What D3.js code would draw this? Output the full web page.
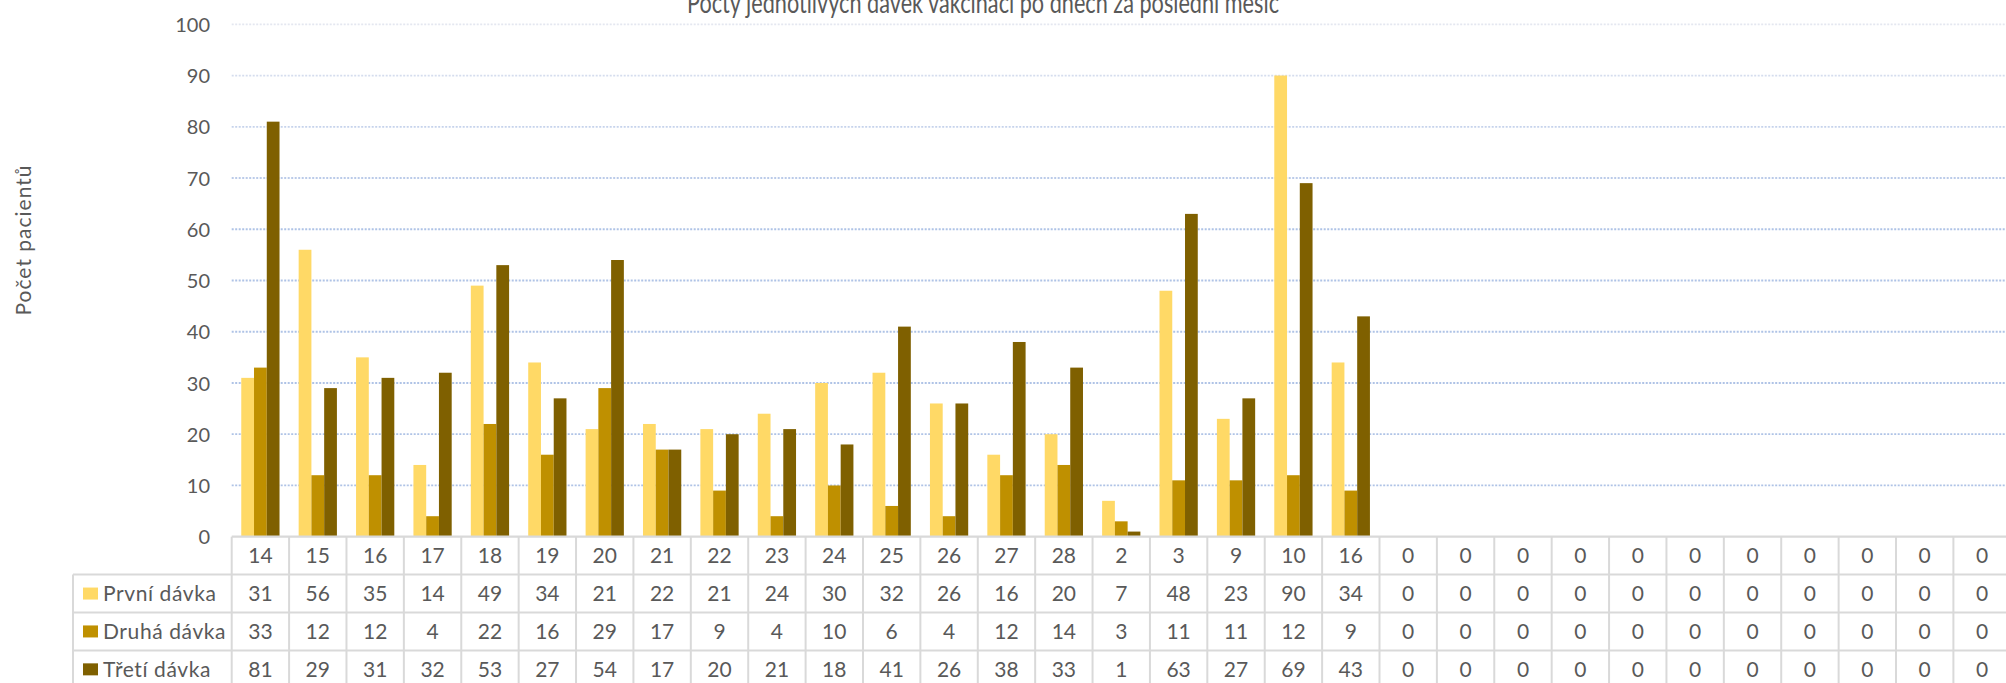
<!DOCTYPE html>
<html>
<head>
<meta charset="utf-8">
<script src="https://cdn.jsdelivr.net/npm/d3@7/dist/d3.min.js"></script>
<style>
  html, body { margin: 0; padding: 0; background: #fff; overflow: hidden; }
  text { font-family: Lato, "Open Sans", "Noto Sans", sans-serif; fill: #595959; }
</style>
</head>
<body>
<svg id="chart" width="2006" height="683"></svg>
<script>
// ---------- data ----------
const title = "Počty jednotlivých dávek vakcinací po dnech za poslední měsíc";
const yAxisTitle = "Počet pacientů";
const categories = ["14","15","16","17","18","19","20","21","22","23","24","25","26","27","28","2","3","9","10","16","0","0","0","0","0","0","0","0","0","0","0"];
const seriesNames = ["První dávka","Druhá dávka","Třetí dávka"];
const prvni = [31,56,35,14,49,34,21,22,21,24,30,32,26,16,20,7,48,23,90,34,0,0,0,0,0,0,0,0,0,0,0];
const druha = [33,12,12,4,22,16,29,17,9,4,10,6,4,12,14,3,11,11,12,9,0,0,0,0,0,0,0,0,0,0,0];
const treti = [81,29,31,32,53,27,54,17,20,21,18,41,26,38,33,1,63,27,69,43,0,0,0,0,0,0,0,0,0,0,0];
const yTicks = [0,10,20,30,40,50,60,70,80,90,100];
const colors = ["#FFD966","#BF9000","#7F6000"];

const series = [prvni, druha, treti];

// ---------- layout ----------
const svg = d3.select("#chart");
const plotLeft = 231.7, step = 57.39;
const plotRight = plotLeft + step * categories.length;
const y0 = 536.7, yTop = 24.3;
const tableTop = 536.7, rowH = 37.9, legendLeft = 73;

const x = d3.scaleBand()
  .domain(d3.range(categories.length))
  .range([plotLeft, plotRight])
  .paddingInner(1/3).paddingOuter(1/6);
const xs = d3.scaleBand().domain(d3.range(series.length)).range([0, x.bandwidth()]);
const y = d3.scaleLinear().domain([0, 100]).range([y0, yTop]);

// gridlines (fade toward the top)
const gridColor = d3.scaleLinear().domain([100, 80, 60]).range(["#e4e7f0", "#c6d3ec", "#afc3e6"]).clamp(true);
svg.append("g").selectAll("line")
  .data(yTicks.filter(d => d > 0))
  .join("line")
  .attr("x1", plotLeft).attr("x2", plotRight)
  .attr("y1", d => y(d)).attr("y2", d => y(d))
  .attr("stroke", d => gridColor(d))
  .attr("stroke-width", 1.8)
  .attr("stroke-dasharray", "2,1.5");

// y axis labels
const yAxis = d3.axisLeft(y).tickValues(yTicks).tickSize(0).tickPadding(0);
const yg = svg.append("g").attr("transform", `translate(210,0)`).call(yAxis);
yg.select(".domain").remove();
yg.selectAll("text").attr("font-size", 20).attr("fill", "#595959").attr("dy", "0.36em")
  .style("font-family", "Lato, 'Open Sans', sans-serif");

// bars
series.forEach((vals, si) => {
  svg.append("g").selectAll("rect")
    .data(vals)
    .join("rect")
    .attr("x", (d, i) => x(i) + xs(si))
    .attr("width", xs.bandwidth())
    .attr("y", d => y(d))
    .attr("height", d => y0 - y(d))
    .attr("fill", colors[si]);
});

// data table
const tg = svg.append("g");
const lineColor = "#d9d9d9";
const tableBottom = tableTop + rowH * 4;
tg.append("line").attr("x1", plotLeft).attr("x2", plotRight).attr("y1", tableTop).attr("y2", tableTop)
  .attr("stroke", lineColor).attr("stroke-width", 2.2);
[1,2,3,4].forEach(r => {
  tg.append("line").attr("x1", legendLeft).attr("x2", plotRight)
    .attr("y1", tableTop + r * rowH).attr("y2", tableTop + r * rowH)
    .attr("stroke", lineColor).attr("stroke-width", 2);
});
tg.append("line").attr("x1", legendLeft).attr("x2", legendLeft).attr("y1", tableTop + rowH).attr("y2", tableBottom)
  .attr("stroke", lineColor).attr("stroke-width", 2);
d3.range(categories.length + 1).forEach(i => {
  const xx = plotLeft + i * step;
  tg.append("line").attr("x1", xx).attr("x2", xx).attr("y1", tableTop).attr("y2", tableBottom)
    .attr("stroke", lineColor).attr("stroke-width", 2);
});
tg.append("g").selectAll("text").data(categories).join("text")
  .attr("x", (d, i) => x(i) + x.bandwidth() / 2)
  .attr("y", tableTop + rowH / 2)
  .attr("dy", "0.36em")
  .attr("text-anchor", "middle")
  .attr("font-size", 21)
  .text(d => d);
series.forEach((vals, si) => {
  const cy = tableTop + rowH * (si + 1) + rowH / 2;
  tg.append("g").selectAll("text").data(vals).join("text")
    .attr("x", (d, i) => x(i) + x.bandwidth() / 2)
    .attr("y", cy)
    .attr("dy", "0.36em")
    .attr("text-anchor", "middle")
    .attr("font-size", 21)
    .text(d => d);
  tg.append("rect").attr("x", 83).attr("y", cy - 6).attr("width", 15).attr("height", 12).attr("fill", colors[si]);
  tg.append("text").attr("x", 103).attr("y", cy).attr("dy", "0.36em")
    .attr("font-size", 21).attr("letter-spacing", "0.6px").text(seriesNames[si]);
});

// titles
svg.append("text").attr("x", 983).attr("y", 12.5).attr("text-anchor", "middle")
  .attr("font-size", 28).attr("textLength", 592).attr("lengthAdjust", "spacingAndGlyphs")
  .text(title);
svg.append("text").attr("transform", "translate(31,240) rotate(-90)").attr("text-anchor", "middle")
  .attr("font-size", 21).attr("letter-spacing", "1px").text(yAxisTitle);
</script>
</body>
</html>
